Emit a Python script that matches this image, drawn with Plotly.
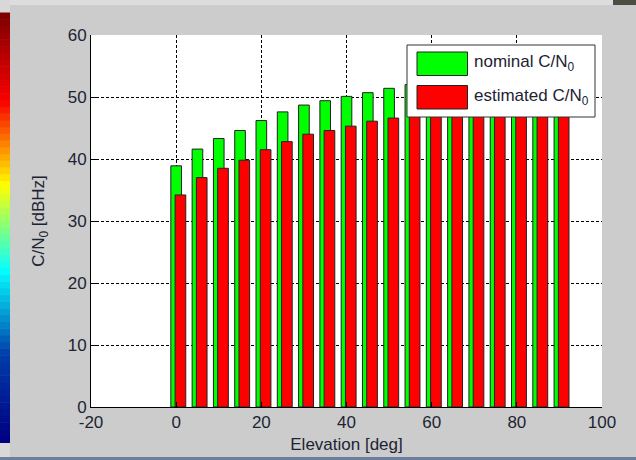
import plotly.graph_objects as go
from plotly.colors import sample_colorscale

# ---------------- data ----------------
elevation = [0, 5, 10, 15, 20, 25, 30, 35, 40, 45, 50, 55, 60, 65, 70, 75, 80, 85, 90]
nominal_cn0 = [38.9, 41.6, 43.3, 44.6, 46.2, 47.6, 48.7, 49.4, 50.1, 50.7, 51.4,
               52.0, 52.5, 53.0, 53.4, 53.7, 54.0, 54.2, 54.3]
estimated_cn0 = [34.2, 37.0, 38.5, 39.8, 41.5, 42.8, 44.0, 44.6, 45.3, 46.1, 46.6,
                 47.2, 47.7, 48.1, 48.5, 48.8, 49.0, 49.2, 49.3]
x_ticks = [-20, 0, 20, 40, 60, 80, 100]
x_ticklabels = ["-20", "0", "20", "40", "60", "80", "100"]
y_ticks = [0, 10, 20, 30, 40, 50, 60]
series_names = ["nominal C/N<sub>0</sub>", "estimated C/N<sub>0</sub>"]
n_colormap = 64

W, H = 636, 460
ML, MR, MT, MB = 91, 34, 35, 53
FONT = "Liberation Sans, Arial, Helvetica, sans-serif"
TXT = "#1c2433"


def px(x):
    return (x - ML) / (W - ML - MR)


def py(y):
    return (H - MB - y) / (H - MT - MB)


fig = go.Figure()

fig.add_trace(go.Bar(
    x=elevation, y=nominal_cn0, name=series_names[0],
    width=2.5, offset=-1.25,
    marker=dict(color="#00ff00", line=dict(color="#222222", width=1)),
    showlegend=False,
))
fig.add_trace(go.Bar(
    x=elevation, y=estimated_cn0, name=series_names[1],
    width=2.5, offset=-0.25,
    marker=dict(color="#ff0000", line=dict(color="#222222", width=1)),
    showlegend=False,
))

grid = dict(showgrid=True, gridcolor="black", gridwidth=1, griddash="3px,2px")

fig.update_layout(
    width=W, height=H,
    paper_bgcolor="#cccccc", plot_bgcolor="white",
    margin=dict(l=ML, r=MR, t=MT, b=MB),
    barmode="overlay",
    font=dict(family=FONT, size=17, color=TXT),
    xaxis=dict(
        range=[-20, 100], tickvals=x_ticks, ticktext=x_ticklabels,
        ticks="inside", ticklen=5,
        tickcolor="black", showline=True, linecolor="black", linewidth=1,
        mirror=False, zeroline=False,
        title=dict(text="Elevation [deg]", standoff=6, font=dict(size=17)),
        tickfont=dict(size=17), automargin=False, **grid,
    ),
    yaxis=dict(
        range=[0, 60], tickvals=y_ticks, ticks="inside", ticklen=5,
        tickcolor="black", showline=True, linecolor="black", linewidth=1,
        mirror=False, zeroline=False,
        title=dict(text="C/N<sub>0</sub> [dBHz]", standoff=18, font=dict(size=17)),
        tickfont=dict(size=17), automargin=False, **grid,
    ),
)

shapes = [
    # light strip at the top of the window
    dict(type="rect", xref="paper", yref="paper", x0=px(0), x1=px(W), y0=py(5), y1=py(0),
         fillcolor="#dddddd", line_width=0, layer="below"),
    dict(type="rect", xref="paper", yref="paper", x0=px(613), x1=px(W), y0=py(5), y1=py(0),
         fillcolor="#4c4c42", line_width=0, layer="below"),
    # bottom strip
    dict(type="rect", xref="paper", yref="paper", x0=px(0), x1=px(10), y0=py(457), y1=py(443),
         fillcolor="#d8d8d8", line_width=0, layer="below"),
    dict(type="rect", xref="paper", yref="paper", x0=px(0), x1=px(W), y0=py(H), y1=py(457),
         fillcolor="#6b7f9c", line_width=0, layer="below"),
    dict(type="rect", xref="paper", yref="paper", x0=px(0), x1=px(10), y0=py(13), y1=py(0),
         fillcolor="#d8d8d8", line_width=0, layer="below"),
]

# decorative jet colour strip at the left edge (top = dark red, bottom = dark blue)
strip_top, strip_bot = 13, 443
jet_colors = sample_colorscale("Jet", [i / (n_colormap - 1) for i in range(n_colormap)])
step = (strip_bot - strip_top) / n_colormap
for i, c in enumerate(jet_colors):
    y_bottom = strip_bot - i * step
    shapes.append(dict(type="rect", xref="paper", yref="paper",
                       x0=px(0), x1=px(10), y0=py(y_bottom), y1=py(y_bottom - step - 0.5),
                       fillcolor=c, line_width=0, layer="below"))

# legend box
shapes += [
    dict(type="rect", xref="paper", yref="paper", x0=px(407), x1=px(595),
         y0=py(117), y1=py(45), fillcolor="white",
         line=dict(color="#333333", width=1)),
    dict(type="rect", xref="paper", yref="paper", x0=px(417), x1=px(467.5),
         y0=py(75.5), y1=py(52), fillcolor="#00ff00",
         line=dict(color="#222222", width=1)),
    dict(type="rect", xref="paper", yref="paper", x0=px(417), x1=px(467.5),
         y0=py(109), y1=py(85.5), fillcolor="#ff0000",
         line=dict(color="#222222", width=1)),
]
fig.update_layout(shapes=shapes)

fig.add_annotation(x=px(472), y=py(63), xref="paper", yref="paper",
                   text=series_names[0], showarrow=False, xanchor="left",
                   yanchor="middle", font=dict(size=17, color=TXT))
fig.add_annotation(x=px(472), y=py(97), xref="paper", yref="paper",
                   text=series_names[1], showarrow=False, xanchor="left",
                   yanchor="middle", font=dict(size=17, color=TXT))

fig.write_html("out.html")
